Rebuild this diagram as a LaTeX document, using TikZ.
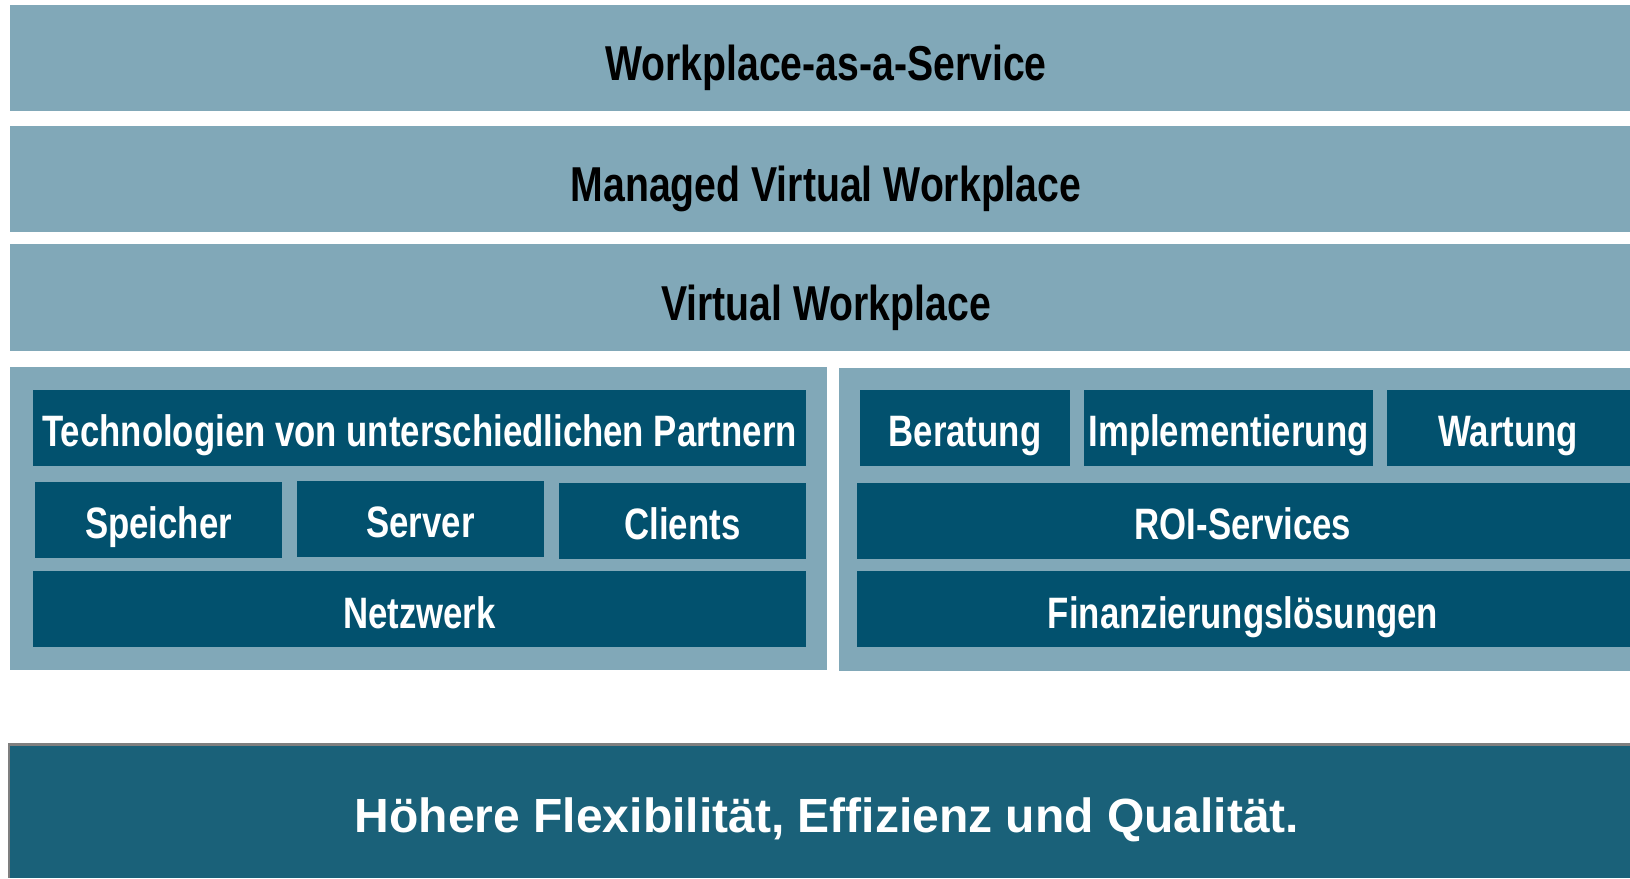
\documentclass[tikz,border=0pt]{standalone}
\usepackage{fontspec}
\setmainfont{Liberation Sans}
\newfontfamily\bandfont{Liberation Sans}[FakeStretch=0.80]
\newfontfamily\boxfont{Liberation Sans}[FakeStretch=0.79]
\definecolor{lightband}{HTML}{81A8B8}
\definecolor{darkbox}{HTML}{02516E}
\definecolor{bottombox}{HTML}{1A6179}
\definecolor{edgegray}{HTML}{7F7F7F}
\tikzset{
  band/.style={fill=lightband, draw=none},
  panel/.style={fill=lightband, draw=none},
  dbox/.style={fill=darkbox, draw=none},
  bandtext/.style={anchor=base, inner sep=0pt, text=black, font=\bandfont\bfseries\fontsize{49}{54}\selectfont},
  boxtext/.style={anchor=base, inner sep=0pt, text=white, font=\boxfont\bfseries\fontsize{44}{50}\selectfont},
  bottomtext/.style={anchor=base, inner sep=0pt, text=white, font=\bfseries\fontsize{48}{53}\selectfont},
}
\begin{document}
\begin{tikzpicture}[x=1pt, y=-1pt]
\useasboundingbox (0,0) rectangle (1630,878);
% top bands
\fill[band] (10,5) rectangle (1630,111);
\node[bandtext] (t1) at (826,80) {Workplace-as-a-Service};
\fill[band] (10,126) rectangle (1630,232);
\node[bandtext] (t2) at (826,201) {Managed Virtual Workplace};
\fill[band] (10,244) rectangle (1630,351);
\node[bandtext] (t3) at (826,320) {Virtual Workplace};
% panels
\fill[panel] (10,367) rectangle (827,670);
\fill[panel] (839,368) rectangle (1630,671);
% left panel boxes
\fill[dbox] (33,390) rectangle (806,466);
\node[boxtext] (tech) at (419.5,446) {Technologien von unterschiedlichen Partnern};
\fill[dbox] (35,482) rectangle (282,558);
\node[boxtext] (spei) at (158.5,538) {Speicher};
\fill[dbox] (297,481) rectangle (544,557);
\node[boxtext] (serv) at (420.5,537) {Server};
\fill[dbox] (559,483) rectangle (806,559);
\node[boxtext] (clie) at (682.5,539) {Clients};
\fill[dbox] (33,571) rectangle (806,647);
\node[boxtext] (netz) at (419.5,628) {Netzwerk};
% right panel boxes
\fill[dbox] (860,390) rectangle (1070,466);
\node[boxtext] (bera) at (965,446) {Beratung};
\fill[dbox] (1084,390) rectangle (1373,466);
\node[boxtext] (impl) at (1228.5,446) {Implementierung};
\fill[dbox] (1387,390) rectangle (1630,466);
\node[boxtext] (wart) at (1508,446) {Wartung};
\fill[dbox] (857,483) rectangle (1630,559);
\node[boxtext] (roi) at (1243,539) {ROI-Services};
\fill[dbox] (857,571) rectangle (1630,647);
\node[boxtext] (fin) at (1243,628) {Finanzierungslösungen};
% bottom
\fill[edgegray] (8,743) rectangle (1630,878);
\fill[bottombox] (10,746) rectangle (1630,878);
\node[bottomtext] (bot) at (827,832) {Höhere Flexibilität, Effizienz und Qualität.};
\end{tikzpicture}
\end{document}
